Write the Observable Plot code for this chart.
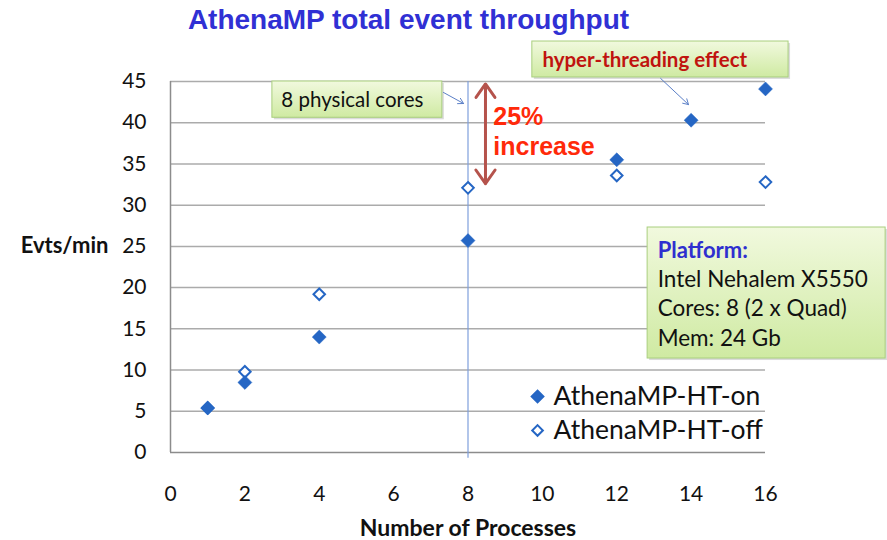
<!DOCTYPE html>
<html>
<head>
<meta charset="utf-8">
<script src="https://cdn.jsdelivr.net/npm/d3@7"></script>
<script src="https://cdn.jsdelivr.net/npm/@observablehq/plot@0.6"></script>
<style>
  html, body { margin: 0; padding: 0; background: #fff; }
  #chart svg { display: block; }
</style>
</head>
<body>
<div id="chart"></div>
<script>
// ---- data ----
const processesOn = [1, 2, 4, 8, 12, 14, 16];
const htOn = [5.4, 8.5, 14.0, 25.7, 35.5, 40.3, 44.1];
const processesOff = [1, 2, 4, 8, 12, 16];
const htOff = [5.4, 9.8, 19.2, 32.1, 33.6, 32.8];
const xTicks = [0, 2, 4, 6, 8, 10, 12, 14, 16];
const yTicks = [0, 5, 10, 15, 20, 25, 30, 35, 40, 45];
const seriesNames = ["AthenaMP-HT-on", "AthenaMP-HT-off"];
const platformTitle = "Platform:";
const platformLines = ["Intel Nehalem X5550", "Cores: 8 (2 x Quad)", "Mem: 24 Gb"];

const onData = processesOn.map((p, i) => ({p, v: htOn[i]}));
const offData = processesOff.map((p, i) => ({p, v: htOff[i]}));

const blue = "#2566c4";
const grid = "#ababab";
const boxFill = "url(#boxgrad)";
const boxStroke = "#a9cf7e";
const font = "Lato, 'Open Sans', sans-serif";
const arial = "'Liberation Sans', Arial, sans-serif";

// annotation boxes (data coordinates)
const boxes = [
  {x1: 2.74, x2: 7.31, y1: 40.6, y2: 45.0},
  {x1: 9.73, x2: 16.62, y1: 45.49, y2: 49.85},
  {x1: 12.83, x2: 19.23, y1: 11.4, y2: 27.29}
];

const plot = Plot.plot({
  width: 887,
  height: 540,
  marginLeft: 170,
  marginRight: 122,
  marginTop: 81,
  marginBottom: 88,
  style: {fontFamily: font, background: "#fff", overflow: "visible"},
  x: {domain: [0, 16], axis: null},
  y: {domain: [0, 45], axis: null},
  marks: [
    // gridlines
    Plot.ruleY(yTicks.filter(d => d > 0), {x1: 0, x2: 16, stroke: grid, strokeWidth: 1.5}),
    Plot.ruleY([0], {x1: 0, x2: 16, stroke: "#8c8c8c", strokeWidth: 1.5}),
    Plot.ruleX([0], {y1: 0, y2: 45, stroke: "#8c8c8c", strokeWidth: 1.5}),
    // tick labels
    Plot.axisY(yTicks, {tickSize: 0, tickPadding: 24, fontSize: 21, label: null, fill: "#111"}),
    Plot.axisX(xTicks, {tickSize: 0, tickPadding: 34, fontSize: 21, label: null, fill: "#111"}),
    // axis titles
    Plot.text(["Evts/min"], {x: -2.85, y: 25.1, text: d => d, fontSize: 22, fontWeight: "bold", fill: "#111", textAnchor: "middle"}),
    Plot.text(["Number of Processes"], {x: 8, y: -9.2, text: d => d, fontSize: 23, fontWeight: "bold", fill: "#111", textAnchor: "middle"}),
    // chart title
    Plot.text(["AthenaMP total event throughput"], {x: 6.4, y: 52.4, text: d => d, fontSize: 28, fontWeight: "bold", fill: "#3030d4", fontFamily: arial, textAnchor: "middle"}),
    // vertical line at 8 physical cores
    Plot.ruleX([8], {y1: -0.7, y2: 45, stroke: "#7f9fdc", strokeWidth: 1.2}),
    // data
    Plot.dot(offData, {x: "p", y: "v", symbol: "diamond2", r: 5.2, stroke: blue, strokeWidth: 2, fill: "#fff"}),
    Plot.dot(onData, {x: "p", y: "v", symbol: "diamond2", r: 6.3, fill: blue, stroke: blue, strokeWidth: 0.5}),
    // legend
    Plot.dot([{x: 9.87, y: 6.8}], {x: "x", y: "y", symbol: "diamond2", r: 5.6, fill: blue, stroke: blue}),
    Plot.dot([{x: 9.87, y: 2.67}], {x: "x", y: "y", symbol: "diamond2", r: 4.8, fill: "#fff", stroke: blue, strokeWidth: 2}),
    Plot.text([seriesNames[0]], {x: 10.3, y: 6.8, text: d => d, fontSize: 26.5, fill: "#111", textAnchor: "start"}),
    Plot.text([seriesNames[1]], {x: 10.3, y: 2.67, text: d => d, fontSize: 26.5, fill: "#111", textAnchor: "start"}),
    // annotation boxes (shadow + box)
    Plot.rect(boxes, {x1: "x1", x2: "x2", y1: "y1", y2: "y2", fill: "#999", fillOpacity: 0.35, dx: 2, dy: 2}),
    Plot.rect(boxes, {x1: "x1", x2: "x2", y1: "y1", y2: "y2", fill: boxFill, stroke: boxStroke, strokeWidth: 1}),
    Plot.text(["8 physical cores"], {x: 2.98, y: 42.7, text: d => d, fontSize: 20.5, fill: "#111", textAnchor: "start"}),
    Plot.text(["hyper-threading effect"], {x: 10.0, y: 47.6, text: d => d, fontSize: 20.5, fontWeight: "bold", fill: "#c0140f", textAnchor: "start"}),
    Plot.text([platformTitle], {x: 13.1, y: 24.5, text: d => d, fontSize: 22, fontWeight: "bold", fill: "#2f2fcf", textAnchor: "start"}),
    Plot.text(platformLines.map((t, i) => ({t, y: [21.0, 17.47, 13.83][i]})), {
      x: 13.1, y: "y", text: "t", fontSize: 22.5, fill: "#111", textAnchor: "start"
    }),
    // pointer arrows
    Plot.arrow([{x1: 7.34, y1: 43.67, x2: 7.88, y2: 42.33}], {x1: "x1", y1: "y1", x2: "x2", y2: "y2", stroke: "#5b7fc7", strokeWidth: 1, headLength: 9}),
    Plot.arrow([{x1: 13.18, y1: 45.37, x2: 13.93, y2: 42.2}], {x1: "x1", y1: "y1", x2: "x2", y2: "y2", stroke: "#5b7fc7", strokeWidth: 1, headLength: 9}),
    // double-headed arrow (25% increase)
    Plot.arrow([{x1: 8.47, y1: 38.7, x2: 8.47, y2: 44.7}, {x1: 8.47, y1: 38.7, x2: 8.47, y2: 32.6}], {x1: "x1", y1: "y1", x2: "x2", y2: "y2", stroke: "#b5534c", strokeWidth: 3, headLength: 11, headAngle: 70}),
    Plot.text(["25%"], {x: 8.68, y: 40.64, text: d => d, fontSize: 25, fontWeight: "bold", fill: "#ff2a0a", textAnchor: "start", fontFamily: arial}),
    Plot.text(["increase"], {x: 8.68, y: 37.0, text: d => d, fontSize: 25, fontWeight: "bold", fill: "#ff2a0a", textAnchor: "start", fontFamily: arial})
  ]
});

// gradient for annotation boxes
const ns = "http://www.w3.org/2000/svg";
const defs = document.createElementNS(ns, "defs");
defs.innerHTML = '<linearGradient id="boxgrad" x1="0" y1="0" x2="0" y2="1"><stop offset="0" stop-color="#f1f9de"/><stop offset="1" stop-color="#cfeaa2"/></linearGradient>';
plot.insertBefore(defs, plot.firstChild);

document.getElementById("chart").appendChild(plot);
</script>
</body>
</html>
